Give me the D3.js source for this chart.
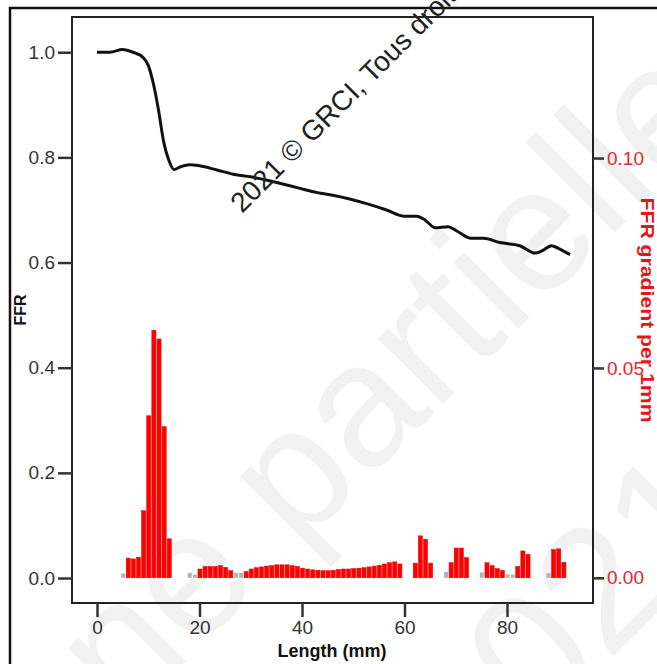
<!DOCTYPE html>
<html>
<head>
<meta charset="utf-8">
<script src="https://cdn.jsdelivr.net/npm/d3@7"></script>
<style>
  body { margin: 0; background: #fff; }
  .tick text { font-family: "Liberation Sans Narrow", "Arial Narrow", "Liberation Sans", Arial, sans-serif; font-size: 19px; }
  .axis-title { font-family: "Liberation Sans", Arial, sans-serif; font-weight: bold; }
</style>
</head>
<body>
<svg class="chart"></svg>
<script>
// Tick values
const lengthTicks = [0, 20, 40, 60, 80];
const ffrTicks = [0, 0.2, 0.4, 0.6, 0.8, 1.0];
const gradTicks = [0, 0.05, 0.10];

// FFR pullback curve (length in mm, FFR)
const lineMm = [0, 2.5, 5, 7, 9, 10, 11, 12, 13, 14, 15, 16.5, 18, 20, 23.4, 26.6, 30, 33, 36.4, 39.6, 43, 46,
                52.6, 56.5, 60, 62.4, 64, 66, 68.5, 70.2, 73, 75.4, 78.6, 82.5, 85.5, 86.8, 88.7, 90, 92.3];
const lineFfr = [1.0, 1.0, 1.005, 1.0, 0.99, 0.975, 0.94, 0.89, 0.83, 0.795, 0.777, 0.783, 0.786, 0.784, 0.776,
                 0.768, 0.763, 0.757, 0.749, 0.741, 0.733, 0.728, 0.712, 0.700, 0.688, 0.688, 0.681, 0.666,
                 0.668, 0.660, 0.646, 0.646, 0.638, 0.632, 0.618, 0.622, 0.632, 0.627, 0.615];

// FFR gradient per 1 mm (red bars)
const barMm = [6, 7, 8, 9, 10, 11, 12, 13, 14,
               20, 21, 22, 23, 24, 25, 26,
               29, 30, 31, 32, 33, 34, 35, 36, 37, 38, 39, 40, 41, 42, 43, 44, 45, 46, 47, 48, 49, 50,
               51, 52, 53, 54, 55, 56, 57, 58, 59,
               62, 63, 64, 65, 69, 70, 71, 72, 76, 77, 78, 79, 82, 83, 84, 89, 90, 91];
const barGrad = [0.0047, 0.0045, 0.0049, 0.016, 0.0386, 0.059, 0.0569, 0.036, 0.0093,
                 0.0021, 0.0027, 0.0027, 0.0027, 0.0029, 0.0025, 0.0017,
                 0.0015, 0.0021, 0.0024, 0.0026, 0.0028, 0.0029, 0.0031, 0.0031, 0.0031, 0.0029, 0.0027,
                 0.0023, 0.0021, 0.0019, 0.0018, 0.0017, 0.0017, 0.0018, 0.002, 0.0021, 0.0021, 0.0022,
                 0.0023, 0.0024, 0.0026, 0.0028, 0.0030, 0.0033, 0.0036, 0.0038, 0.0033,
                 0.0035, 0.010, 0.0092, 0.0035, 0.0036, 0.0071, 0.0071, 0.0048, 0.0036, 0.0029, 0.0022,
                 0.0018, 0.0027, 0.0064, 0.0056, 0.0067, 0.0069, 0.0037];

// Small grey bars (non-positive gradient)
const grayMm = [5, 18, 19, 27, 28, 68, 75, 80, 81, 88];
const grayGrad = [0.0010, 0.0012, 0.0007, 0.0012, 0.0012, 0.0014, 0.0013, 0.0008, 0.0008, 0.0011];

const width = 657, height = 664;

const svg = d3.select(".chart")
    .attr("width", width)
    .attr("height", height);

// Faint background watermark
const wm = svg.append("g").attr("fill", "#f1f1f1")
    .style("font-family", "Liberation Sans, Arial, sans-serif")
    .style("font-size", "175px");
wm.append("text")
    .attr("transform", "translate(125,722) rotate(-45)")
    .text("ne partielle");
wm.append("text")
    .attr("transform", "translate(470,800) rotate(-45)")
    .text("2021");

// Outer frame
svg.append("rect")
    .attr("x", 10).attr("y", 8)
    .attr("width", 800).attr("height", 800)
    .attr("fill", "none")
    .attr("stroke", "#111")
    .attr("stroke-width", 2.5);

// Scales (plot frame spans 72..593 by 17..603)
const xScale = d3.scaleLinear().domain([-4.88, 96.78]).range([72, 593]);
const yLeft = d3.scaleLinear().domain([-0.0475, 1.067]).range([603, 17]);
const yRight = d3.scaleLinear().domain([-0.006, 0.1336]).range([603, 17]);

const barW = xScale(1) - xScale(0) - 1;

// Grey bars
svg.selectAll(".gbar")
    .data(grayMm.map((m, i) => ({m: m, v: grayGrad[i]})))
    .enter().append("rect")
    .attr("class", "gbar")
    .attr("x", d => xScale(d.m) + 0.5 - barW / 2)
    .attr("y", d => yRight(d.v))
    .attr("width", barW)
    .attr("height", d => yRight(0) - yRight(d.v))
    .attr("fill", "#b3b3b3");

// Red bars
svg.selectAll(".bar")
    .data(barMm.map((m, i) => ({m: m, v: barGrad[i]})))
    .enter().append("rect")
    .attr("class", "bar")
    .attr("x", d => xScale(d.m) + 0.5 - barW / 2)
    .attr("y", d => yRight(d.v))
    .attr("width", barW)
    .attr("height", d => yRight(0) - yRight(d.v))
    .attr("fill", "#ff0000")
    .attr("stroke", "#e00000")
    .attr("stroke-width", 0.5);

// FFR line
const line = d3.line()
    .x(d => xScale(d[0]))
    .y(d => yLeft(d[1]))
    .curve(d3.curveMonotoneX);

svg.append("path")
    .datum(lineMm.map((m, i) => [m, lineFfr[i]]))
    .attr("d", line)
    .attr("fill", "none")
    .attr("stroke", "#111")
    .attr("stroke-width", 3)
    .attr("stroke-linejoin", "round");

// Plot frame
svg.append("rect")
    .attr("x", 72).attr("y", 17)
    .attr("width", 521).attr("height", 586)
    .attr("fill", "none")
    .attr("stroke", "#222")
    .attr("stroke-width", 2);

// Axes
const xAxis = svg.append("g")
    .attr("transform", "translate(0,603)")
    .call(d3.axisBottom(xScale).tickValues(lengthTicks).tickSize(14).tickPadding(4).tickFormat(d3.format("d")));

const yAxisL = svg.append("g")
    .attr("transform", "translate(72,0)")
    .call(d3.axisLeft(yLeft).tickValues(ffrTicks).tickSize(14).tickPadding(3).tickFormat(d3.format(".1f")));

const yAxisR = svg.append("g")
    .attr("transform", "translate(593,0)")
    .call(d3.axisRight(yRight).tickValues(gradTicks).tickSize(11).tickPadding(3).tickFormat(d3.format(".2f")));

[xAxis, yAxisL, yAxisR].forEach(a => {
    a.select(".domain").remove();
    a.selectAll(".tick line").attr("stroke", "#333").attr("stroke-width", 2.5);
    a.selectAll(".tick text").attr("fill", "#333");
});
yAxisR.selectAll(".tick text").attr("fill", "#e8262d");

// Axis titles
svg.append("text")
    .attr("class", "axis-title")
    .attr("text-anchor", "middle")
    .attr("x", 332).attr("y", 657)
    .style("font-size", "18px")
    .attr("fill", "#111")
    .text("Length (mm)");

svg.append("text")
    .attr("class", "axis-title")
    .attr("text-anchor", "middle")
    .attr("transform", "translate(26,310) rotate(-90)")
    .style("font-size", "16px")
    .attr("fill", "#111")
    .text("FFR");

svg.append("text")
    .attr("class", "axis-title")
    .attr("text-anchor", "middle")
    .attr("transform", "translate(641,310) rotate(90)")
    .style("font-size", "18px")
    .attr("textLength", 225)
    .attr("lengthAdjust", "spacingAndGlyphs")
    .attr("fill", "#e8141c")
    .text("FFR gradient per 1mm");

// Copyright stamp
svg.append("text")
    .attr("transform", "translate(242,214) rotate(-45)")
    .style("font-family", "Liberation Sans, Arial, sans-serif")
    .style("font-size", "28px")
    .attr("fill", "#222")
    .text("2021 © GRCI, Tous droits réservés");
</script>
</body>
</html>
